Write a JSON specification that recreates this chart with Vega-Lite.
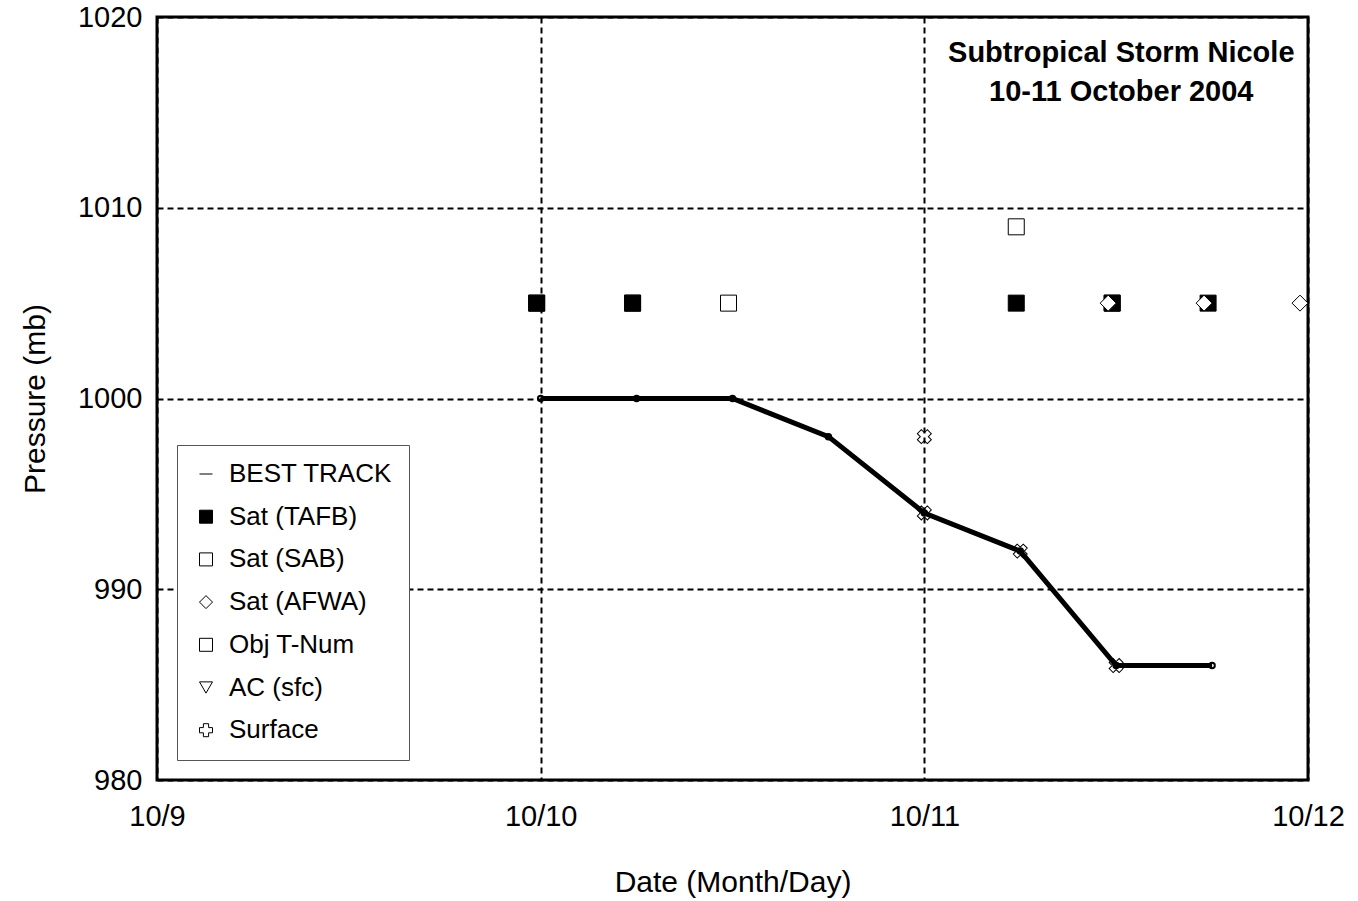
{
  "$schema": "https://vega.github.io/schema/vega-lite/v6.json",
  "width": 1151,
  "height": 763,
  "autosize": {"type": "none"},
  "padding": {"left": 157, "top": 17, "right": 50, "bottom": 121},
  "background": "white",
  "config": {
    "view": {"stroke": "black", "strokeWidth": 3}
  },
  "title": {
    "text": ["Subtropical Storm Nicole", "10-11 October 2004"],
    "anchor": "end",
    "align": "center",
    "dx": -223,
    "dy": 108,
    "font": "Liberation Sans",
    "fontSize": 29,
    "fontWeight": "bold",
    "color": "black",
    "lineHeight": 39
  },
  "encoding": {
    "x": {
      "field": "hour", "type": "quantitative",
      "scale": {"domain": [0, 72], "nice": false, "zero": false},
      "axis": {
        "title": "Date (Month/Day)",
        "titleFont": "Liberation Sans", "titleFontSize": 30, "titleFontWeight": "normal", "titleColor": "black", "titlePadding": 36,
        "values": [0, 24, 48, 72],
        "labelExpr": "'10/' + (9 + datum.value / 24)",
        "labelFont": "Liberation Sans", "labelFontSize": 29, "labelColor": "black",
        "labelPadding": 22, "labelFlush": false,
        "ticks": false,
        "domain": false,
        "grid": true, "gridColor": "black", "gridWidth": 2, "gridDash": [6, 4]
      }
    },
    "y": {
      "field": "p", "type": "quantitative",
      "scale": {"domain": [980, 1020], "nice": false, "zero": false},
      "axis": {
        "title": "Pressure (mb)",
        "titleFont": "Liberation Sans", "titleFontSize": 30, "titleFontWeight": "normal", "titleColor": "black", "titlePadding": 27,
        "values": [980, 990, 1000, 1010, 1020],
        "format": "d",
        "labelFont": "Liberation Sans", "labelFontSize": 29, "labelColor": "black",
        "labelPadding": 15, "labelFlush": false,
        "ticks": false,
        "domain": false,
        "grid": true, "gridColor": "black", "gridWidth": 2, "gridDash": [6, 4]
      }
    },
    "shape": {
      "field": "source", "type": "nominal",
      "scale": {
        "domain": ["BEST TRACK", "Sat (TAFB)", "Sat (SAB)", "Sat (AFWA)", "Obj T-Num", "AC (sfc)", "Surface"],
        "range": ["stroke", "square", "square", "diamond", "square", "triangle-down", "cross"]
      },
      "legend": {
        "title": null,
        "orient": "bottom-left",
        "offset": 20,
        "padding": 16,
        "labelOffset": 10,
        "rowPadding": 16.7,
        "labelLimit": 300,
        "labelFont": "Liberation Sans",
        "labelFontSize": 26,
        "labelColor": "black",
        "fillColor": "white",
        "strokeColor": "#555555",
        "symbolStrokeColor": "black",
        "symbolStrokeWidth": 1,
        "symbolSize": 169,
        "symbolOpacity": 1
      }
    },
    "fill": {
      "field": "source", "type": "nominal",
      "scale": {
        "domain": ["BEST TRACK", "Sat (TAFB)", "Sat (SAB)", "Sat (AFWA)", "Obj T-Num", "AC (sfc)", "Surface"],
        "range": ["transparent", "black", "transparent", "white", "transparent", "transparent", "transparent"]
      },
      "legend": {"title": null}
    },
    "stroke": {
      "field": "source", "type": "nominal",
      "scale": {
        "domain": ["BEST TRACK", "Sat (TAFB)", "Sat (SAB)", "Sat (AFWA)", "Obj T-Num", "AC (sfc)", "Surface"],
        "range": ["black", "black", "black", "black", "black", "black", "black"]
      },
      "legend": {"title": null}
    }
  },
  "layer": [
    {
      "data": {"values": [
        {"hour": 24, "p": 1000},
        {"hour": 30, "p": 1000},
        {"hour": 36, "p": 1000},
        {"hour": 42, "p": 998},
        {"hour": 48, "p": 994},
        {"hour": 54, "p": 992},
        {"hour": 60, "p": 986},
        {"hour": 66, "p": 986}
      ]},
      "mark": {"type": "line", "color": "black", "strokeWidth": 5},
      "encoding": {"shape": {"value": null}, "fill": {"value": null}, "stroke": {"value": "black"}}
    },
    {
      "data": {"values": [
        {"source": "Sat (SAB)", "hour": 23.75, "p": 1005},
        {"source": "Sat (SAB)", "hour": 29.75, "p": 1005},
        {"source": "Sat (SAB)", "hour": 35.75, "p": 1005},
        {"source": "Sat (SAB)", "hour": 53.75, "p": 1009},
        {"source": "Sat (SAB)", "hour": 59.75, "p": 1005},
        {"source": "Sat (TAFB)", "hour": 23.75, "p": 1005},
        {"source": "Sat (TAFB)", "hour": 29.75, "p": 1005},
        {"source": "Sat (TAFB)", "hour": 53.75, "p": 1005},
        {"source": "Sat (TAFB)", "hour": 59.75, "p": 1005},
        {"source": "Sat (TAFB)", "hour": 65.75, "p": 1005},
        {"source": "Sat (AFWA)", "hour": 59.5, "p": 1005},
        {"source": "Sat (AFWA)", "hour": 65.5, "p": 1005},
        {"source": "Sat (AFWA)", "hour": 71.5, "p": 1005}
      ]},
      "mark": {"type": "point", "opacity": 1, "strokeWidth": 1, "size": 256}
    },
    {
      "data": {"values": [
        {"source": "Surface", "hour": 48, "p": 998},
        {"source": "Surface", "hour": 48, "p": 994},
        {"source": "Surface", "hour": 54, "p": 992},
        {"source": "Surface", "hour": 60, "p": 986}
      ]},
      "mark": {"type": "point", "opacity": 1, "strokeWidth": 1, "size": 200, "angle": 45}
    }
  ]
}
